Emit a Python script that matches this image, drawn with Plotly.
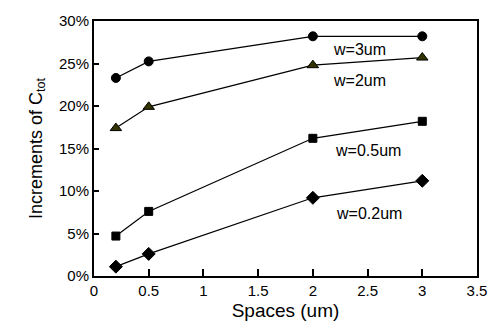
import plotly.graph_objects as go

spaces = [0.2, 0.5, 2, 3]
w3 = [23.3, 25.25, 28.2, 28.2]
w2 = [17.4, 19.9, 24.8, 25.7]
w05 = [4.7, 7.6, 16.2, 18.2]
w02 = [1.1, 2.6, 9.2, 11.2]

series = [
    ("w=3um", w3, "circle", 9, "black"),
    ("w=2um", w2, "triangle-up", 10, "#333300"),
    ("w=0.5um", w05, "square", 8, "black"),
    ("w=0.2um", w02, "diamond", 10, "black"),
]
labels = [("w=3um", 2.43, 26.6), ("w=2um", 2.43, 23.0), ("w=0.5um", 2.5, 14.8), ("w=0.2um", 2.51, 7.3)]

fig = go.Figure()
for name, ys, sym, sz, col in series:
    fig.add_trace(go.Scatter(x=spaces, y=[v / 100 for v in ys], mode="lines+markers",
                             line=dict(color="black", width=1.2),
                             marker=dict(symbol=sym, size=sz, color=col, line=dict(color="black", width=1)),
                             name=name, showlegend=False))
for t, x, y in labels:
    fig.add_annotation(x=x, y=y / 100, text=t, showarrow=False, xanchor="center",
                       font=dict(family="Liberation Sans, Arial", size=16, color="black"))

fig.update_layout(
    width=499, height=335, margin=dict(l=94, r=14, t=17, b=59),
    plot_bgcolor="white", paper_bgcolor="white",
    font=dict(family="Liberation Sans, Arial", color="black"),
    xaxis=dict(range=[0, 3.5], tickvals=[0, 0.5, 1, 1.5, 2, 2.5, 3, 3.5],
               ticktext=["0", "0.5", "1", "1.5", "2", "2.5", "3", "3.5"],
               ticks="inside", ticklen=7, tickwidth=1.5, tickcolor="black",
               showline=True, linecolor="black", linewidth=2, mirror=True,
               showgrid=False, zeroline=False, tickfont=dict(size=15),
               title=dict(text="Spaces (um)", font=dict(size=19), standoff=6)),
    yaxis=dict(range=[0, 0.30], tickvals=[0, 0.05, 0.10, 0.15, 0.20, 0.25, 0.30],
               ticktext=["0%", "5%", "10%", "15%", "20%", "25%", "30%"],
               ticks="inside", ticklen=5, tickwidth=1.5, tickcolor="black",
               showline=True, linecolor="black", linewidth=2, mirror=True,
               showgrid=False, zeroline=False, tickfont=dict(size=15),
               title=dict(text="Increments of C<sub>tot</sub>", font=dict(size=18), standoff=12)),
)
fig.write_html("out.html")
